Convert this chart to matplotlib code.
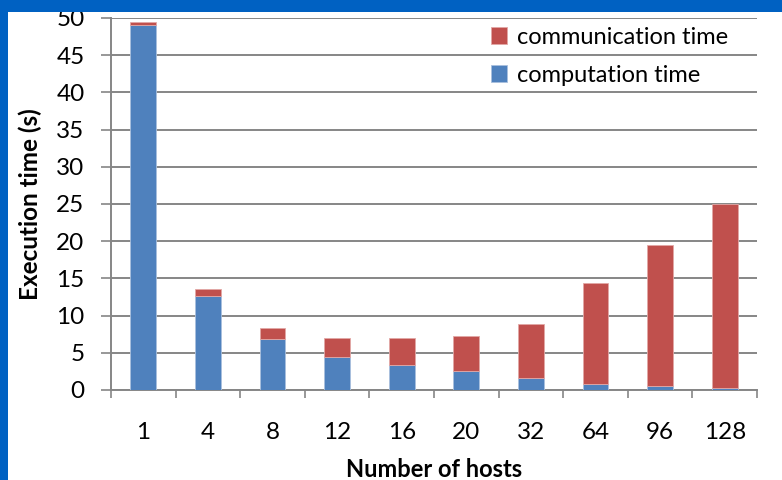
import matplotlib

matplotlib.use("Agg")
import matplotlib.pyplot as plt
from matplotlib.patches import Rectangle
import numpy as np

plt.rcParams["font.family"] = ["Lato", "DejaVu Sans"]

# execution time breakdown per cluster size (seconds)
hosts = ["1", "4", "8", "12", "16", "20", "32", "64", "96", "128"]
computation = [49.1, 12.7, 6.8, 4.5, 3.3, 2.6, 1.6, 0.8, 0.5, 0.3]
communication = [0.3, 0.85, 1.5, 2.5, 3.7, 4.7, 7.3, 13.6, 18.95, 24.7]

BLUE = "#4f81bd"
RED = "#c0504d"
GRID = "#868686"
SLIDE = "#0061c2"

fig = plt.figure(figsize=(7.82, 4.8), dpi=100, facecolor=SLIDE)
# white chart panel on the slide background
fig.add_artist(Rectangle((8 / 782, 0), 1, (480 - 12) / 480, transform=fig.transFigure,
                         facecolor="white", edgecolor="none", zorder=-5))
ax = fig.add_axes([111 / 782, 90 / 480, 646 / 782, 372 / 480])
ax.set_facecolor("white")

x = np.arange(len(hosts))
comp = np.array(computation)
comm = np.array(communication)
ax.bar(x, comp, width=0.4, color=BLUE, edgecolor="#a9c0de", linewidth=0.6,
       label="computation time", zorder=3)
ax.bar(x, comm, width=0.4, bottom=comp, color=RED, edgecolor="#e2a8a6", linewidth=0.6,
       label="communication time", zorder=3)

ax.set_xlim(-0.5, len(hosts) - 0.5)
ax.set_ylim(0, 50)
ax.set_yticks(np.arange(0, 51, 5))
ax.yaxis.grid(True, color=GRID, linewidth=1.4, zorder=0)
ax.set_axisbelow(True)

ax.set_xticks(x)
ax.set_xticklabels(hosts)
ax.set_xticks(np.arange(-0.5, len(hosts), 1.0), minor=True)
ax.tick_params(axis="x", which="major", length=0, pad=23, labelsize=17.5)
ax.tick_params(axis="x", which="minor", length=6, width=1.2, color=GRID, direction="out")
ax.tick_params(axis="y", length=7, width=1.2, color=GRID, pad=12, labelsize=17.5)

for side in ("top", "right"):
    ax.spines[side].set_visible(False)
ax.spines["left"].set_color(GRID)
ax.spines["left"].set_linewidth(1.4)
ax.spines["bottom"].set_color(GRID)
ax.spines["bottom"].set_linewidth(1.4)

ax.set_ylabel("Execution time (s)", fontsize=17.5, fontweight="bold", labelpad=10)
ax.set_xlabel("Number of hosts", fontsize=17, fontweight="bold", labelpad=11)

handles, labels = ax.get_legend_handles_labels()
ax.legend(handles[::-1], labels[::-1], loc="upper left", frameon=False,
          bbox_to_anchor=(479 / 782, (480 - 15) / 480), bbox_transform=fig.transFigure,
          fontsize=17, handlelength=0.7, handleheight=0.7, handletextpad=0.4,
          labelspacing=0.72, borderpad=0)

# slide band across the top clips the chart panel
fig.add_artist(Rectangle((0, (480 - 12) / 480), 1, 12 / 480, transform=fig.transFigure,
                         facecolor=SLIDE, edgecolor="none", zorder=20))

fig.savefig("out.png", dpi=100, facecolor=SLIDE)
